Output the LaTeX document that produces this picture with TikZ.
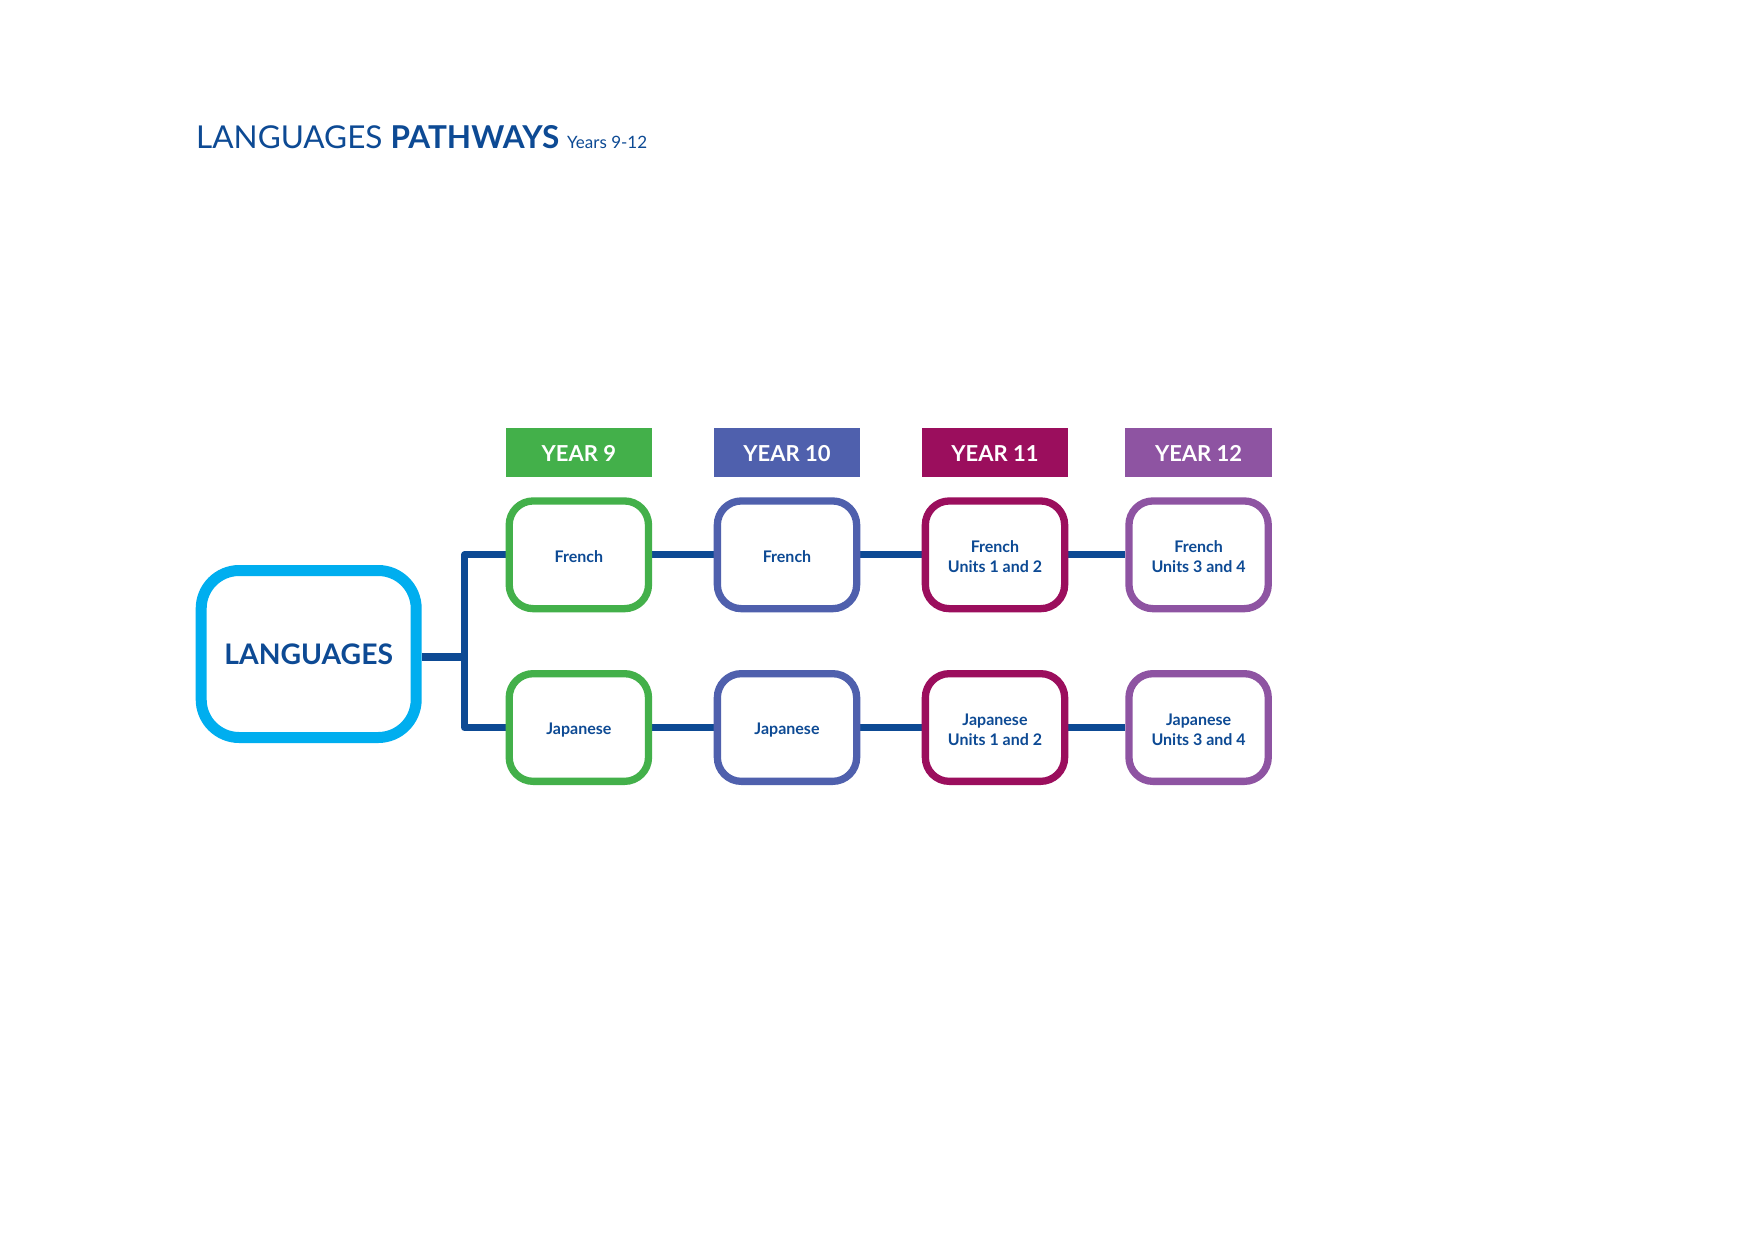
\documentclass[tikz,border=0pt]{standalone}
\usepackage{fontspec}
\setmainfont{Lato}
\usetikzlibrary{backgrounds}
\definecolor{navy}{HTML}{0D4A94}
\definecolor{cyanL}{HTML}{00AEEF}
\definecolor{cnine}{HTML}{43B04A}
\definecolor{cten}{HTML}{4F60AD}
\definecolor{celeven}{HTML}{9B0E5D}
\definecolor{ctwelve}{HTML}{8E54A2}
\tikzset{
  hdr/.style={rectangle, minimum width=146.5, minimum height=49, inner sep=0, text=white,
    text height=17.8, text depth=0,
    font=\fontsize{22}{26}\selectfont\bfseries},
  subj/.style={rectangle, draw, line width=7.3, rounded corners=24, minimum width=139.3,
    minimum height=107.7, fill=white, align=center, text=navy, inner sep=0,
    text height=14.5, text depth=0,
    font=\fontsize{16}{20}\selectfont\bfseries},
  subjtwo/.style={subj, text height=35.8, text depth=0},
  mainbox/.style={rectangle, draw=cyanL, line width=11, rounded corners=38, minimum width=215,
    minimum height=167, fill=white, text=navy, inner sep=0,
    text height=20.3, text depth=0,
    font=\fontsize{28.3}{32}\selectfont\bfseries},
  conn/.style={draw=navy, line width=7.3, line join=round}
}
\begin{document}
\begin{tikzpicture}[x=1pt,y=-1pt]
\useasboundingbox (0,0) rectangle (1754,1240);
% title
\node[anchor=base west, inner sep=0, text=navy] (title) at (196,148.3)
  {\fontsize{31.5}{36}\selectfont LANGUAGES \textbf{PATHWAYS}\hspace{8pt}{\fontsize{17}{20}\selectfont Years 9-12}};
% main box
\node[mainbox] (lang) at (308.7,654) {LANGUAGES};
% headers
\node[hdr, fill=cnine] (h9) at (578.85,452.9) {YEAR 9};
\node[hdr, fill=cten] (h10) at (787,452.9) {YEAR 10};
\node[hdr, fill=celeven] (h11) at (995,452.9) {YEAR 11};
\node[hdr, fill=ctwelve] (h12) at (1198.6,452.9) {YEAR 12};
% row 1
\node[subj, draw=cnine] (fr9) at (578.85,554.8) {French};
\node[subj, draw=cten] (fr10) at (787,554.8) {French};
\node[subjtwo, draw=celeven] (fr11) at (995,554.8) {French\\Units 1 and 2};
\node[subjtwo, draw=ctwelve] (fr12) at (1198.6,554.8) {French\\Units 3 and 4};
% row 2
\node[subj, draw=cnine] (ja9) at (578.85,727.5) {Japanese};
\node[subj, draw=cten] (ja10) at (787,727.5) {Japanese};
\node[subjtwo, draw=celeven] (ja11) at (995,727.5) {Japanese\\Units 1 and 2};
\node[subjtwo, draw=ctwelve] (ja12) at (1198.6,727.5) {Japanese\\Units 3 and 4};
\coordinate (jx) at (464.7,657);
\begin{scope}[on background layer]
\fill[white] (0,0) rectangle (1754,1240);
\draw[conn] ([yshift=-3pt]lang.east) -- (jx);
\draw[conn] (fr9.west) -| (jx) |- (ja9.west);
\draw[conn] (fr9) -- (fr10);
\draw[conn] (fr10) -- (fr11);
\draw[conn] (fr11) -- (fr12);
\draw[conn] (ja9) -- (ja10);
\draw[conn] (ja10) -- (ja11);
\draw[conn] (ja11) -- (ja12);
\end{scope}
\end{tikzpicture}
\end{document}
